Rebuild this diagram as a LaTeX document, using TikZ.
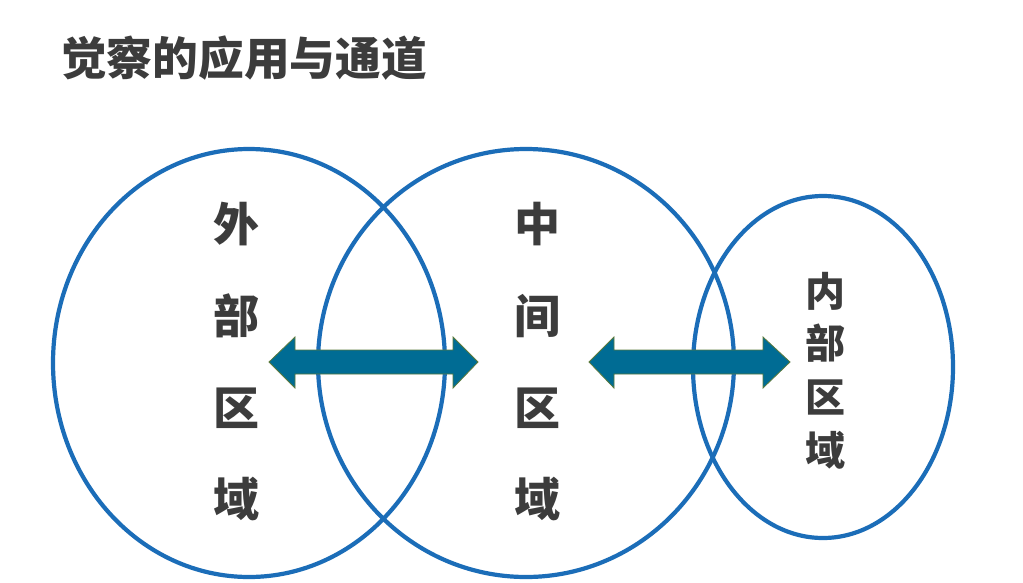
\documentclass[tikz,border=0pt]{standalone}
\usepackage{fontspec}
\newfontfamily\cjk{Noto Sans CJK SC}
\definecolor{ringblue}{HTML}{1B6DB8}
\definecolor{arrowfill}{HTML}{006C94}
\definecolor{arrowedge}{HTML}{5B7A3C}
\definecolor{txtgray}{HTML}{3C3C3C}
\tikzset{
  ring/.style={draw=ringblue, line width=4.2pt},
  blockarrow/.style={fill=arrowfill, draw=arrowedge, line width=0.8pt, line join=miter},
  bigchar/.style={inner sep=0pt, text=txtgray, font=\cjk\bfseries\fontsize{46}{50}\selectfont},
  smallchar/.style={inner sep=0pt, text=txtgray, font=\cjk\bfseries\fontsize{40}{46}\selectfont},
  titlestyle/.style={inner sep=0pt, text=txtgray, anchor=west, font=\cjk\bfseries\fontsize{45.7}{50}\selectfont}
}
\begin{document}
\begin{tikzpicture}[x=1pt,y=-1pt]
\fill[white] (0,0) rectangle (1023,582);
\useasboundingbox (0,0) rectangle (1023,582);
\node[titlestyle] (title) at (61,58) {觉察的应用与通道};
% ellipses
\draw[ring] (249,363) ellipse [x radius=196, y radius=214];
\draw[ring] (526,363) ellipse [x radius=208, y radius=214];
\draw[ring] (823,367) ellipse [x radius=130, y radius=171];
% arrows
\draw[blockarrow] (269,362) -- (295,337) -- (295,350) -- (453,350) -- (453,337) -- (478,362)
  -- (453,388) -- (453,374) -- (295,374) -- (295,388) -- cycle;
\draw[blockarrow] (589,362) -- (614,337) -- (614,350) -- (763,350) -- (763,337) -- (790,362)
  -- (763,388) -- (763,374) -- (614,374) -- (614,388) -- cycle;
% texts
\node[bigchar] (a1) at (236,224) {外};
\node[bigchar] (a2) at (236,316) {部};
\node[bigchar] (a3) at (236,408) {区};
\node[bigchar] (a4) at (236,499) {域};
\node[bigchar] (b1) at (537,224) {中};
\node[bigchar] (b2) at (537,316) {间};
\node[bigchar] (b3) at (537,408) {区};
\node[bigchar] (b4) at (537,499) {域};
\node[smallchar] (c1) at (825,291) {内};
\node[smallchar] (c2) at (825,343) {部};
\node[smallchar] (c3) at (825,397) {区};
\node[smallchar] (c4) at (825,450) {域};
\end{tikzpicture}
\end{document}
